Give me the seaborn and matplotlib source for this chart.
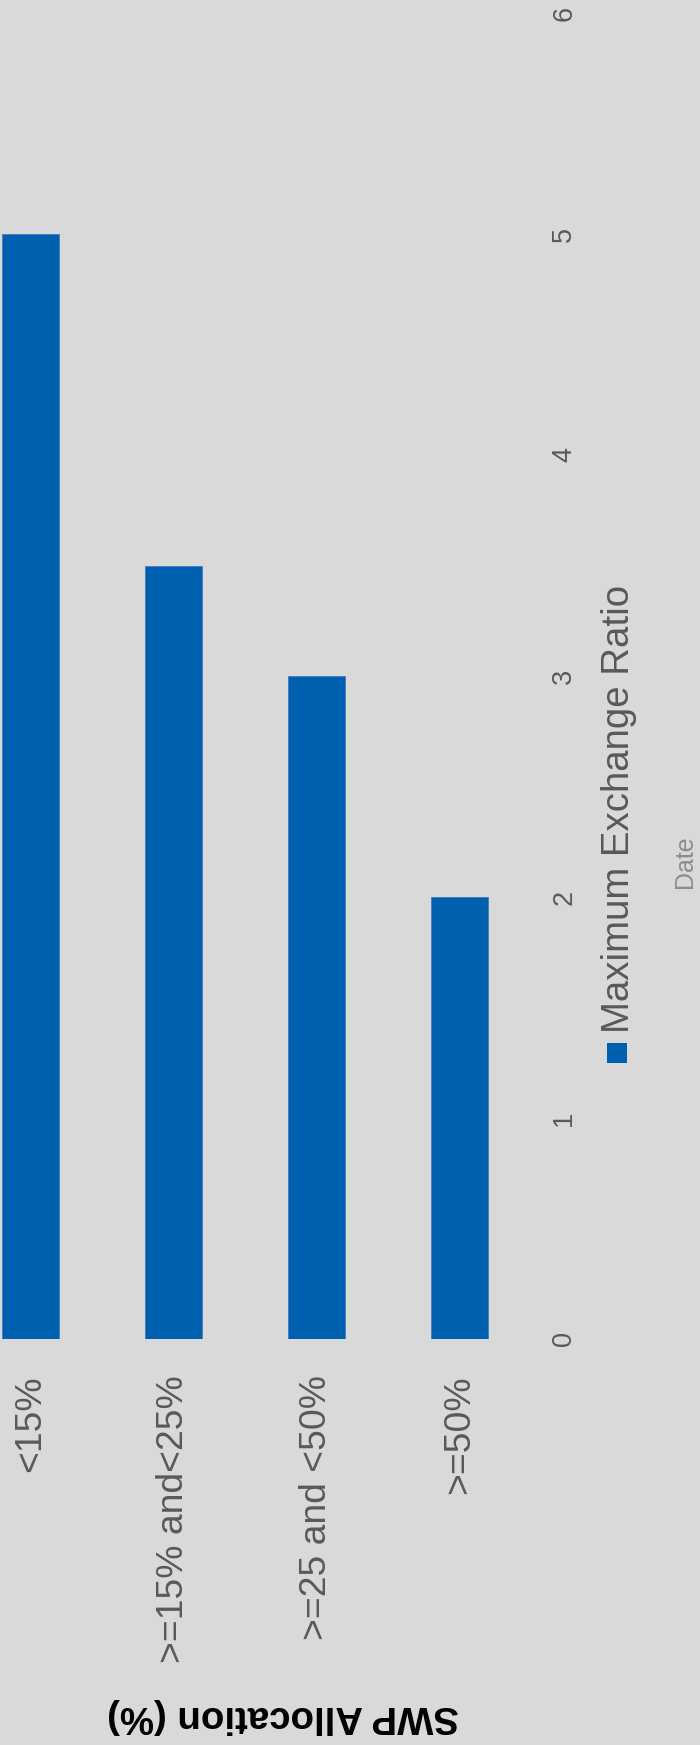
import matplotlib
matplotlib.use("Agg")
import matplotlib.pyplot as plt
import matplotlib.patches as mpatches
import seaborn as sns
import pandas as pd

# ---- data ----
categories = ["<15%", ">=15% and<25%", ">=25 and <50%", ">=50%"]
values = [5, 3.5, 3, 2]
series_name = "Maximum Exchange Ratio"
y_ticks = [0, 1, 2, 3, 4, 5, 6]
x_title = "SWP Allocation (%)"
y_title = "Date"

BG = "#d9d9d9"
BLUE = "#0060b0"
TXT = "#595959"

plt.rcParams["font.family"] = ["Liberation Sans", "DejaVu Sans"]

W, H = 700, 1745
fig = plt.figure(figsize=(W / 100, H / 100), dpi=100, facecolor=BG)

# axes in pixel geometry (from top-left)
ax_left, ax_right = -41, 531
ax_top, ax_bottom = 13, 1339
ax = fig.add_axes([ax_left / W, (H - ax_bottom) / H,
                   (ax_right - ax_left) / W, (ax_bottom - ax_top) / H])
ax.set_facecolor(BG)

df = pd.DataFrame({"category": categories, "value": values})
sns.barplot(data=df, x="category", y="value", color=BLUE, saturation=1,
            width=0.4, edgecolor="#3d7bc2", linewidth=0.6, ax=ax)

ax.set_xlim(-0.5, len(categories) - 0.5)
ax.set_ylim(0, max(y_ticks))
ax.set_yticks(y_ticks)
ax.set_yticklabels([str(t) for t in y_ticks])
ax.yaxis.tick_right()
ax.tick_params(axis="y", length=0, pad=14.5, labelsize=19.5, labelcolor=TXT,
               labelrotation=90)
for lbl in ax.get_yticklabels():
    lbl.set_va("center")
    lbl.set_ha("left")
ax.tick_params(axis="x", length=0, pad=26, labelsize=26.8, labelcolor=TXT,
               labelrotation=90)
for lbl in ax.get_xticklabels():
    lbl.set_va("top")
    lbl.set_ha("center")
ax.set_xlabel("")
ax.set_ylabel("")
for s in ax.spines.values():
    s.set_visible(False)
ax.grid(False)

# axis titles
fig.text(283 / W, (H - 1716) / H, x_title, rotation=180, ha="center",
         va="center", fontsize=27.6, fontweight="bold", color="black")
fig.text(685 / W, (H - 862) / H, y_title, rotation=90, ha="center",
         va="center", fontsize=18, color="#8c8c8c")

# legend (rotated)
fig.patches.append(mpatches.Rectangle((607 / W, (H - 1063) / H), 20 / W, 20 / H,
                                      transform=fig.transFigure,
                                      facecolor=BLUE, edgecolor="none"))
fig.text(629 / W, (H - 1033) / H, series_name, rotation=90,
         rotation_mode="anchor", ha="left", va="baseline",
         fontsize=27.6, color=TXT)

fig.savefig("out.png", dpi=100, facecolor=BG)
